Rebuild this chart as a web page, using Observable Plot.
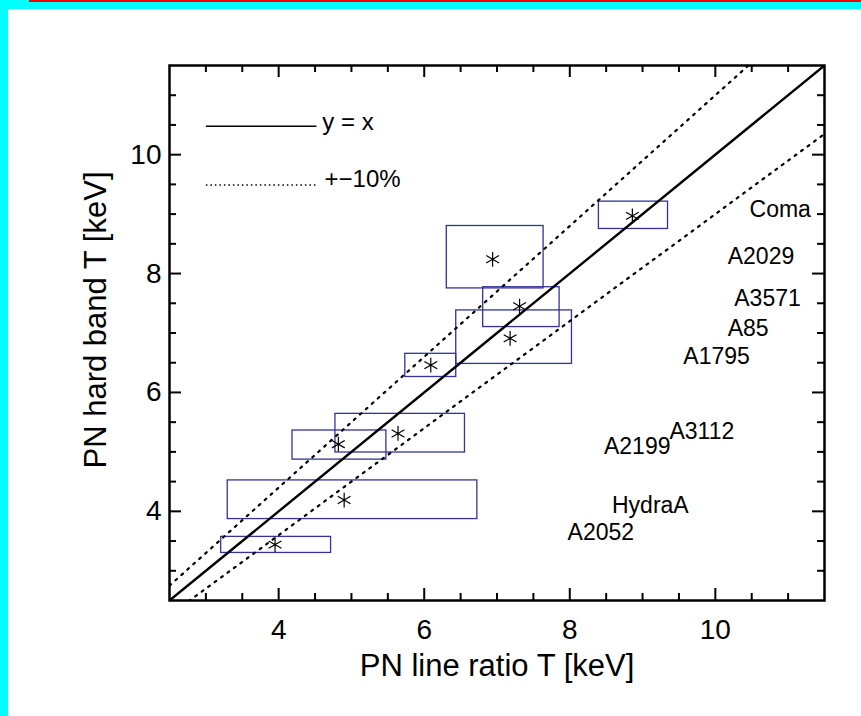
<!DOCTYPE html>
<html><head><meta charset="utf-8">
<script src="https://cdn.jsdelivr.net/npm/d3@7"></script>
<script src="https://cdn.jsdelivr.net/npm/@observablehq/plot@0.6"></script>
<style>
body{margin:0;background:#fff;}
#wrap{position:relative;width:861px;height:716px;overflow:hidden;background:#fff;}
#wrap svg{position:absolute;left:0;top:0;}
.cyanL{position:absolute;left:0;top:0;width:8px;height:716px;background:#00ffff;}
.cyanT{position:absolute;left:0;top:0;width:861px;height:9px;background:#00ffff;}
.red{position:absolute;left:29px;top:0;width:832px;height:2px;background:#ff0000;}
</style></head><body><div id="wrap"></div>
<script>
// measured temperatures (keV)
const lineRatioT = [3.95, 4.90, 4.82, 5.64, 6.09, 7.18, 7.31, 6.94, 8.86];
const lineRatioLo = [3.21, 3.30, 4.19, 4.78, 5.74, 6.44, 6.81, 6.31, 8.40];
const lineRatioHi = [4.72, 6.73, 5.48, 6.56, 6.44, 8.03, 7.86, 7.64, 9.35];
const hardBandT = [3.44, 4.19, 5.13, 5.31, 6.46, 6.91, 7.45, 8.24, 8.97];
const hardBandLo = [3.30, 3.87, 4.87, 4.99, 6.26, 6.48, 7.10, 7.75, 8.75];
const hardBandHi = [3.57, 4.52, 5.36, 5.64, 6.65, 7.38, 7.77, 8.80, 9.21];

// cluster name labels
const clusterNames = ["Coma", "A2029", "A3571", "A85", "A1795", "A3112", "A2199", "HydraA", "A2052"];
const clusterLabelX = [10.47, 10.17, 10.26, 10.17, 9.56, 9.37, 8.47, 8.58, 7.97];
const clusterLabelY = [9.07, 8.29, 7.57, 7.08, 6.60, 5.34, 5.09, 4.09, 3.64];

// reference lines: y = k * x
const refLabels = ["y = x", "+−10%"];
const refSlopes = [[1.0], [1.1, 0.9]];
const lineX = [2.5, 11.5];

// legend placement (data units)
const legendLineX = [3.0, 4.52];
const legendLineY = [10.48, 9.49];
const legendTextX = [4.6, 4.63];
const legendTextY = [10.55, 9.59];

// axes
const domain = [2.5, 11.5];
const majorTicks = [4, 6, 8, 10];
const minorTicks = [3, 3.5, 4.5, 5, 5.5, 6.5, 7, 7.5, 8.5, 9, 9.5, 10.5, 11];
const xTitle = "PN line ratio T [keV]";
const yTitle = "PN hard band T [keV]";

const points = lineRatioT.map((x, i) => ({
  x, y: hardBandT[i], x1: lineRatioLo[i], x2: lineRatioHi[i], y1: hardBandLo[i], y2: hardBandHi[i]
}));
const labels = clusterNames.map((name, i) => ({name, x: clusterLabelX[i], y: clusterLabelY[i]}));
const refLines = [];
refSlopes.forEach((ks, j) => ks.forEach(k => lineX.forEach(x => refLines.push({x, y: k * x, k, style: j}))));
const legend = refLabels.map((label, i) => ({label, style: i, x1: legendLineX[0], x2: legendLineX[1], y: legendLineY[i], tx: legendTextX[i], ty: legendTextY[i]}));

const W = 861, H = 716, mL = 169, mR = 37, mT = 65, mB = 116;
const fw = W - mL - mR, fh = H - mT - mB;
const major = 12, minor = 7;
const font = "'Liberation Sans', Arial, Helvetica, sans-serif";

const chart = Plot.plot({
  width: W, height: H,
  marginLeft: mL, marginRight: mR, marginTop: mT, marginBottom: mB,
  style: {fontFamily: font, background: "transparent", color: "black"},
  x: {domain, axis: null},
  y: {domain, axis: null},
  marks: [
    Plot.rect(points, {x1: "x1", x2: "x2", y1: "y1", y2: "y2", fill: "none", stroke: "#333399", strokeWidth: 1.3}),
    Plot.line(refLines.filter(d => d.style === 0), {x: "x", y: "y", z: "k", stroke: "black", strokeWidth: 2.4, clip: true}),
    Plot.line(refLines.filter(d => d.style === 1), {x: "x", y: "y", z: "k", stroke: "black", strokeWidth: 2.2, strokeDasharray: "2 6", clip: true}),
    Plot.dot(points, {x: "x", y: "y", symbol: "asterisk", r: 7, stroke: "black", strokeWidth: 1.2}),
    Plot.text(labels, {x: "x", y: "y", text: "name", textAnchor: "start", fontSize: 23, fill: "black"}),
    // legend
    Plot.link(legend.filter(d => d.style === 0), {x1: "x1", x2: "x2", y1: "y", y2: "y", stroke: "black", strokeWidth: 1.5}),
    Plot.link(legend.filter(d => d.style === 1), {x1: "x1", x2: "x2", y1: "y", y2: "y", stroke: "black", strokeWidth: 1.5, strokeDasharray: "1.5 3"}),
    Plot.text(legend, {x: "tx", y: "ty", text: "label", textAnchor: "start", fontSize: 24, fill: "black"}),
    // ticks (inward, all four sides)
    Plot.ruleX(majorTicks, {x: d => d, insetTop: fh - major, stroke: "black", strokeWidth: 2}),
    Plot.ruleX(minorTicks, {x: d => d, insetTop: fh - minor, stroke: "black", strokeWidth: 2}),
    Plot.ruleX(majorTicks, {x: d => d, insetBottom: fh - major, stroke: "black", strokeWidth: 2}),
    Plot.ruleX(minorTicks, {x: d => d, insetBottom: fh - minor, stroke: "black", strokeWidth: 2}),
    Plot.ruleY(majorTicks, {y: d => d, insetRight: fw - major, stroke: "black", strokeWidth: 2}),
    Plot.ruleY(minorTicks, {y: d => d, insetRight: fw - minor, stroke: "black", strokeWidth: 2}),
    Plot.ruleY(majorTicks, {y: d => d, insetLeft: fw - major, stroke: "black", strokeWidth: 2}),
    Plot.ruleY(minorTicks, {y: d => d, insetLeft: fw - minor, stroke: "black", strokeWidth: 2}),
    Plot.frame({stroke: "black", strokeWidth: 2.5}),
    // tick labels
    Plot.text(majorTicks, {x: d => d, frameAnchor: "bottom", dy: 38, text: d => String(d), fontSize: 28, fill: "black"}),
    Plot.text(majorTicks, {y: d => d, frameAnchor: "left", dx: -8, textAnchor: "end", text: d => String(d), fontSize: 28, fill: "black"}),
    // axis titles
    Plot.text([xTitle], {frameAnchor: "bottom", dy: 75, textAnchor: "middle", text: d => d, fontSize: 31, fill: "black"}),
    Plot.text([yTitle], {frameAnchor: "left", dx: -73, dy: -13, rotate: -90, textAnchor: "middle", text: d => d, fontSize: 31, fill: "black"})
  ]
});

const wrap = document.getElementById("wrap");
wrap.appendChild(chart);
for (const c of ["cyanL", "cyanT", "red"]) {
  const d = document.createElement("div");
  d.className = c;
  wrap.appendChild(d);
}
</script>
</body></html>
